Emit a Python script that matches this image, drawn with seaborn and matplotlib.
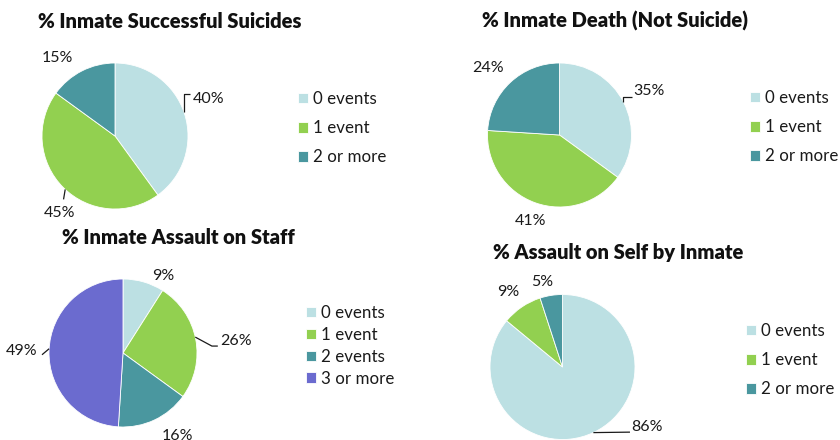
import numpy as np
import matplotlib
matplotlib.use("Agg")
import matplotlib.pyplot as plt
import seaborn as sns

sns.set_theme(style="white")
plt.rcParams["font.family"] = ["Lato", "DejaVu Sans"]

# ---- data -------------------------------------------------------------
titles = [
    "% Inmate Successful Suicides",
    "% Inmate Death (Not Suicide)",
    "% Inmate Assault on Staff",
    "% Assault on Self by Inmate",
]
cats_3 = ["0 events", "1 event", "2 or more"]
cats_4 = ["0 events", "1 event", "2 events", "3 or more"]

suicides = [40, 45, 15]
deaths = [35, 41, 24]
assault_staff = [9, 26, 16, 49]
assault_self = [86, 9, 5]

palette = sns.color_palette(["#BCE0E3", "#92D050", "#4A979F", "#6B6BCF"])

W, H = 840, 440
fig = plt.figure(figsize=(W / 100, H / 100), dpi=100)


def px_axes(cx, cy, r):
    """Square axes whose unit circle lands at pixel centre (cx, cy), radius r."""
    return fig.add_axes([(cx - r) / W, (H - cy - r) / H, 2 * r / W, 2 * r / H])


def draw_pie(spec):
    ax = px_axes(*spec["center"])
    vals = spec["values"]
    wedges, _ = ax.pie(vals, colors=palette[:len(vals)], startangle=90,
                       counterclock=False, radius=1.0,
                       wedgeprops=dict(edgecolor="white", linewidth=0.6))
    ax.set_xlim(-1, 1)
    ax.set_ylim(-1, 1)
    ax.set_aspect("equal")
    ax.axis("off")

    total = float(sum(vals))
    start = 90.0
    for i, v in enumerate(vals):
        sweep = 360.0 * v / total
        mid = start - sweep / 2
        start -= sweep
        dist, nudge = spec["label_pos"][i]
        ang = np.deg2rad(mid + nudge)
        lx, ly = dist * np.cos(ang), dist * np.sin(ang)
        ax.text(lx, ly, f"{v}%", ha="center", va="center", fontsize=11.5,
                color="#1a1a1a", clip_on=False)
        leader = spec["leaders"].get(i)
        if leader:
            enudge, kind, (ex, ey) = leader
            ea = np.deg2rad(mid + enudge)
            sx, sy = np.cos(ea), np.sin(ea)
            tx, ty = lx + ex, ly + ey
            if kind == "v":
                xs, ys = [sx, sx, tx], [sy, ty, ty]
            elif kind == "s":
                xs, ys = [sx, tx - 0.08, tx], [sy, ty, ty]
            else:
                xs, ys = [sx, tx], [sy, ty]
            ax.plot(xs, ys, color="#1a1a1a", lw=0.9, clip_on=False,
                    solid_capstyle="butt")

    tx, ty = spec["title_xy"]
    fig.text(tx / W, 1 - ty / H, spec["title"], ha="center", va="center",
             fontsize=14.5, fontweight="heavy", color="#111111")

    lx, ly = spec["legend_xy"]
    fig.legend(wedges, spec["cats"], loc="upper left",
               bbox_to_anchor=(lx / W, 1 - ly / H), frameon=False,
               fontsize=12.2, handlelength=0.6, handleheight=0.6,
               handletextpad=0.3, labelspacing=spec["spacing"],
               borderpad=0, borderaxespad=0, labelcolor="#1a1a1a")


specs = [
    dict(title=titles[0], values=suicides, cats=cats_3,
         center=(115, 136, 73), title_xy=(170, 21),
         label_pos=[(1.38, 3.5), (1.30, 9.5), (1.33, 9.7)],
         leaders={0: (1.2, "v", (-0.26, 0.07)), 1: (2.0, "line", (0.05, 0.19))},
         legend_xy=(298, 91), spacing=0.78),
    dict(title=titles[1], values=deaths, cats=cats_3,
         center=(559.5, 135, 72), title_xy=(615, 21),
         label_pos=[(1.385, -0.8), (1.26, 1.5), (1.36, 3.6)],
         leaders={0: (0.5, "v", (-0.24, -0.08))},
         legend_xy=(750, 90), spacing=0.78),
    dict(title=titles[2], values=assault_staff, cats=cats_4,
         center=(123, 353, 74), title_xy=(178, 237),
         label_pos=[(1.17, -11.3), (1.54, -4.7), (1.345, 8.3), (1.365, 0.7)],
         leaders={1: (1.6, "s", (-0.25, -0.07)),
                  3: (-1.5, "line", (0.27, -0.05))},
         legend_xy=(306, 305), spacing=0.35),
    dict(title=titles[3], values=assault_self, cats=cats_3,
         center=(562.5, 367, 72.5), title_xy=(618, 253),
         label_pos=[(1.43, 29.4), (1.28, 1.8), (1.21, 4.6)],
         leaders={0: (0.0, "line", (-0.235, -0.07))},
         legend_xy=(746, 323), spacing=0.78),
]

for s in specs:
    draw_pie(s)

fig.savefig("out.png", dpi=100)
